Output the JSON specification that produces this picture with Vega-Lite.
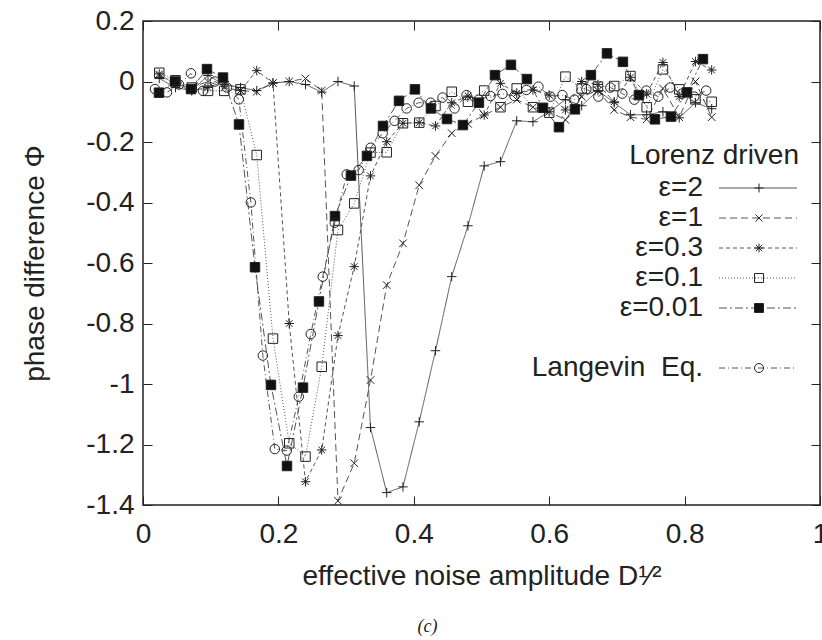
{
  "$schema": "https://vega.github.io/schema/vega-lite/v6.json",
  "width": 677,
  "height": 484,
  "autosize": "none",
  "padding": {"left": 143, "top": 21, "right": 2, "bottom": 135},
  "background": "white",
  "config": {
    "view": {"stroke": "#222", "strokeWidth": 1.5},
    "font": "Liberation Sans",
    "axis": {"grid": false, "domain": false, "labelFlush": false, "labelOverlap": false, "tickColor": "#222", "tickSize": -9, "tickWidth": 1, "labelFontSize": 28, "labelColor": "#222", "titleFontSize": 28, "titleFontWeight": "normal", "titleColor": "#222", "labelFont": "Liberation Sans", "titleFont": "Liberation Sans"}
  },
  "title": {"text": "(c)", "orient": "bottom", "font": "Liberation Serif", "fontStyle": "italic", "fontWeight": "normal", "fontSize": 18, "offset": 28, "dx": -54, "color": "#222"},
  "datasets": {
    "pts": [
      {"series": "ε=2", "x": 0.024, "y": 0.01}, {"series": "ε=2", "x": 0.048, "y": -0.02}, {"series": "ε=2", "x": 0.072, "y": -0.03}, {"series": "ε=2", "x": 0.096, "y": 0.02}, {"series": "ε=2", "x": 0.12, "y": -0.01}, {"series": "ε=2", "x": 0.144, "y": -0.02}, {"series": "ε=2", "x": 0.168, "y": -0.03}, {"series": "ε=2", "x": 0.192, "y": -0.005}, {"series": "ε=2", "x": 0.216, "y": 0.0}, {"series": "ε=2", "x": 0.24, "y": -0.01}, {"series": "ε=2", "x": 0.264, "y": -0.035}, {"series": "ε=2", "x": 0.288, "y": 0.0}, {"series": "ε=2", "x": 0.312, "y": -0.015}, {"series": "ε=2", "x": 0.336, "y": -1.144}, {"series": "ε=2", "x": 0.36, "y": -1.359}, {"series": "ε=2", "x": 0.384, "y": -1.34}, {"series": "ε=2", "x": 0.408, "y": -1.125}, {"series": "ε=2", "x": 0.432, "y": -0.89}, {"series": "ε=2", "x": 0.456, "y": -0.645}, {"series": "ε=2", "x": 0.48, "y": -0.477}, {"series": "ε=2", "x": 0.504, "y": -0.279}, {"series": "ε=2", "x": 0.528, "y": -0.265}, {"series": "ε=2", "x": 0.552, "y": -0.13}, {"series": "ε=2", "x": 0.576, "y": -0.133}, {"series": "ε=2", "x": 0.6, "y": -0.1}, {"series": "ε=2", "x": 0.624, "y": -0.06}, {"series": "ε=2", "x": 0.648, "y": -0.08}, {"series": "ε=2", "x": 0.672, "y": -0.03}, {"series": "ε=2", "x": 0.696, "y": -0.07}, {"series": "ε=2", "x": 0.72, "y": -0.11}, {"series": "ε=2", "x": 0.744, "y": -0.11}, {"series": "ε=2", "x": 0.768, "y": -0.1}, {"series": "ε=2", "x": 0.792, "y": -0.12}, {"series": "ε=2", "x": 0.816, "y": -0.07}, {"series": "ε=2", "x": 0.84, "y": -0.09},

      {"series": "ε=1", "x": 0.024, "y": 0.02}, {"series": "ε=1", "x": 0.048, "y": -0.01}, {"series": "ε=1", "x": 0.072, "y": -0.02}, {"series": "ε=1", "x": 0.096, "y": 0.0}, {"series": "ε=1", "x": 0.12, "y": -0.02}, {"series": "ε=1", "x": 0.144, "y": -0.03}, {"series": "ε=1", "x": 0.168, "y": -0.034}, {"series": "ε=1", "x": 0.192, "y": -0.005}, {"series": "ε=1", "x": 0.216, "y": 0.0}, {"series": "ε=1", "x": 0.24, "y": 0.01}, {"series": "ε=1", "x": 0.264, "y": -0.03}, {"series": "ε=1", "x": 0.288, "y": -1.386}, {"series": "ε=1", "x": 0.312, "y": -1.262}, {"series": "ε=1", "x": 0.336, "y": -0.987}, {"series": "ε=1", "x": 0.36, "y": -0.673}, {"series": "ε=1", "x": 0.384, "y": -0.535}, {"series": "ε=1", "x": 0.408, "y": -0.343}, {"series": "ε=1", "x": 0.432, "y": -0.246}, {"series": "ε=1", "x": 0.456, "y": -0.171}, {"series": "ε=1", "x": 0.48, "y": -0.14}, {"series": "ε=1", "x": 0.504, "y": -0.111}, {"series": "ε=1", "x": 0.528, "y": -0.085}, {"series": "ε=1", "x": 0.552, "y": -0.06}, {"series": "ε=1", "x": 0.576, "y": -0.085}, {"series": "ε=1", "x": 0.6, "y": -0.1}, {"series": "ε=1", "x": 0.624, "y": -0.127}, {"series": "ε=1", "x": 0.648, "y": -0.05}, {"series": "ε=1", "x": 0.672, "y": -0.03}, {"series": "ε=1", "x": 0.696, "y": -0.094}, {"series": "ε=1", "x": 0.72, "y": -0.118}, {"series": "ε=1", "x": 0.744, "y": -0.125}, {"series": "ε=1", "x": 0.768, "y": -0.023}, {"series": "ε=1", "x": 0.792, "y": -0.118}, {"series": "ε=1", "x": 0.816, "y": 0.0}, {"series": "ε=1", "x": 0.84, "y": -0.118},

      {"series": "ε=0.3", "x": 0.024, "y": 0.025}, {"series": "ε=0.3", "x": 0.048, "y": -0.01}, {"series": "ε=0.3", "x": 0.072, "y": -0.03}, {"series": "ε=0.3", "x": 0.096, "y": -0.02}, {"series": "ε=0.3", "x": 0.12, "y": 0.0}, {"series": "ε=0.3", "x": 0.144, "y": -0.03}, {"series": "ε=0.3", "x": 0.168, "y": 0.036}, {"series": "ε=0.3", "x": 0.192, "y": -0.005}, {"series": "ε=0.3", "x": 0.216, "y": -0.8}, {"series": "ε=0.3", "x": 0.24, "y": -1.323}, {"series": "ε=0.3", "x": 0.264, "y": -1.218}, {"series": "ε=0.3", "x": 0.288, "y": -0.84}, {"series": "ε=0.3", "x": 0.312, "y": -0.612}, {"series": "ε=0.3", "x": 0.336, "y": -0.312}, {"series": "ε=0.3", "x": 0.36, "y": -0.199}, {"series": "ε=0.3", "x": 0.384, "y": -0.138}, {"series": "ε=0.3", "x": 0.408, "y": -0.136}, {"series": "ε=0.3", "x": 0.432, "y": -0.147}, {"series": "ε=0.3", "x": 0.456, "y": -0.07}, {"series": "ε=0.3", "x": 0.48, "y": -0.048}, {"series": "ε=0.3", "x": 0.504, "y": -0.111}, {"series": "ε=0.3", "x": 0.528, "y": -0.006}, {"series": "ε=0.3", "x": 0.552, "y": -0.039}, {"series": "ε=0.3", "x": 0.576, "y": -0.028}, {"series": "ε=0.3", "x": 0.6, "y": -0.045}, {"series": "ε=0.3", "x": 0.624, "y": -0.094}, {"series": "ε=0.3", "x": 0.648, "y": 0.0}, {"series": "ε=0.3", "x": 0.672, "y": -0.01}, {"series": "ε=0.3", "x": 0.696, "y": -0.067}, {"series": "ε=0.3", "x": 0.72, "y": 0.014}, {"series": "ε=0.3", "x": 0.744, "y": -0.041}, {"series": "ε=0.3", "x": 0.768, "y": 0.063}, {"series": "ε=0.3", "x": 0.792, "y": -0.05}, {"series": "ε=0.3", "x": 0.816, "y": 0.066}, {"series": "ε=0.3", "x": 0.84, "y": 0.038},

      {"series": "ε=0.1", "x": 0.024, "y": 0.029}, {"series": "ε=0.1", "x": 0.048, "y": 0.004}, {"series": "ε=0.1", "x": 0.072, "y": -0.02}, {"series": "ε=0.1", "x": 0.096, "y": -0.031}, {"series": "ε=0.1", "x": 0.12, "y": -0.031}, {"series": "ε=0.1", "x": 0.144, "y": -0.026}, {"series": "ε=0.1", "x": 0.168, "y": -0.243}, {"series": "ε=0.1", "x": 0.192, "y": -0.85}, {"series": "ε=0.1", "x": 0.216, "y": -1.196}, {"series": "ε=0.1", "x": 0.24, "y": -1.24}, {"series": "ε=0.1", "x": 0.264, "y": -0.943}, {"series": "ε=0.1", "x": 0.288, "y": -0.491}, {"series": "ε=0.1", "x": 0.312, "y": -0.403}, {"series": "ε=0.1", "x": 0.336, "y": -0.235}, {"series": "ε=0.1", "x": 0.36, "y": -0.234}, {"series": "ε=0.1", "x": 0.384, "y": -0.138}, {"series": "ε=0.1", "x": 0.408, "y": -0.136}, {"series": "ε=0.1", "x": 0.432, "y": -0.081}, {"series": "ε=0.1", "x": 0.456, "y": -0.034}, {"series": "ε=0.1", "x": 0.48, "y": -0.067}, {"series": "ε=0.1", "x": 0.504, "y": -0.03}, {"series": "ε=0.1", "x": 0.528, "y": -0.085}, {"series": "ε=0.1", "x": 0.552, "y": -0.023}, {"series": "ε=0.1", "x": 0.576, "y": -0.085}, {"series": "ε=0.1", "x": 0.6, "y": -0.103}, {"series": "ε=0.1", "x": 0.624, "y": 0.016}, {"series": "ε=0.1", "x": 0.648, "y": -0.023}, {"series": "ε=0.1", "x": 0.672, "y": -0.017}, {"series": "ε=0.1", "x": 0.696, "y": -0.015}, {"series": "ε=0.1", "x": 0.72, "y": 0.018}, {"series": "ε=0.1", "x": 0.744, "y": -0.085}, {"series": "ε=0.1", "x": 0.768, "y": 0.04}, {"series": "ε=0.1", "x": 0.792, "y": -0.026}, {"series": "ε=0.1", "x": 0.816, "y": -0.059}, {"series": "ε=0.1", "x": 0.84, "y": -0.067},

      {"series": "ε=0.01", "x": 0.0236, "y": -0.037}, {"series": "ε=0.01", "x": 0.0473, "y": 0.0}, {"series": "ε=0.01", "x": 0.0709, "y": -0.025}, {"series": "ε=0.01", "x": 0.0945, "y": 0.041}, {"series": "ε=0.01", "x": 0.1182, "y": 0.013}, {"series": "ε=0.01", "x": 0.1418, "y": -0.142}, {"series": "ε=0.01", "x": 0.1654, "y": -0.614}, {"series": "ε=0.01", "x": 0.189, "y": -1.003}, {"series": "ε=0.01", "x": 0.2127, "y": -1.271}, {"series": "ε=0.01", "x": 0.2363, "y": -1.012}, {"series": "ε=0.01", "x": 0.2599, "y": -0.727}, {"series": "ε=0.01", "x": 0.2836, "y": -0.445}, {"series": "ε=0.01", "x": 0.3072, "y": -0.311}, {"series": "ε=0.01", "x": 0.3308, "y": -0.246}, {"series": "ε=0.01", "x": 0.3545, "y": -0.147}, {"series": "ε=0.01", "x": 0.3781, "y": -0.064}, {"series": "ε=0.01", "x": 0.4017, "y": -0.026}, {"series": "ε=0.01", "x": 0.4253, "y": -0.089}, {"series": "ε=0.01", "x": 0.449, "y": -0.124}, {"series": "ε=0.01", "x": 0.4726, "y": -0.144}, {"series": "ε=0.01", "x": 0.4962, "y": -0.07}, {"series": "ε=0.01", "x": 0.5199, "y": 0.021}, {"series": "ε=0.01", "x": 0.5435, "y": 0.055}, {"series": "ε=0.01", "x": 0.5671, "y": 0.008}, {"series": "ε=0.01", "x": 0.5908, "y": -0.087}, {"series": "ε=0.01", "x": 0.6144, "y": -0.151}, {"series": "ε=0.01", "x": 0.638, "y": -0.092}, {"series": "ε=0.01", "x": 0.6616, "y": 0.021}, {"series": "ε=0.01", "x": 0.6853, "y": 0.093}, {"series": "ε=0.01", "x": 0.7089, "y": 0.065}, {"series": "ε=0.01", "x": 0.7325, "y": -0.045}, {"series": "ε=0.01", "x": 0.7562, "y": -0.125}, {"series": "ε=0.01", "x": 0.7798, "y": -0.116}, {"series": "ε=0.01", "x": 0.8034, "y": -0.036}, {"series": "ε=0.01", "x": 0.8271, "y": 0.074},

      {"series": "Langevin\u00a0\u00a0Eq.", "x": 0.0177, "y": -0.025}, {"series": "Langevin\u00a0\u00a0Eq.", "x": 0.0354, "y": -0.036}, {"series": "Langevin\u00a0\u00a0Eq.", "x": 0.0531, "y": -0.01}, {"series": "Langevin\u00a0\u00a0Eq.", "x": 0.0708, "y": 0.027}, {"series": "Langevin\u00a0\u00a0Eq.", "x": 0.0885, "y": -0.031}, {"series": "Langevin\u00a0\u00a0Eq.", "x": 0.1062, "y": 0.0}, {"series": "Langevin\u00a0\u00a0Eq.", "x": 0.1239, "y": -0.02}, {"series": "Langevin\u00a0\u00a0Eq.", "x": 0.1416, "y": -0.059}, {"series": "Langevin\u00a0\u00a0Eq.", "x": 0.1593, "y": -0.4}, {"series": "Langevin\u00a0\u00a0Eq.", "x": 0.177, "y": -0.906}, {"series": "Langevin\u00a0\u00a0Eq.", "x": 0.1947, "y": -1.215}, {"series": "Langevin\u00a0\u00a0Eq.", "x": 0.2124, "y": -1.22}, {"series": "Langevin\u00a0\u00a0Eq.", "x": 0.2301, "y": -1.042}, {"series": "Langevin\u00a0\u00a0Eq.", "x": 0.2478, "y": -0.835}, {"series": "Langevin\u00a0\u00a0Eq.", "x": 0.2655, "y": -0.645}, {"series": "Langevin\u00a0\u00a0Eq.", "x": 0.2832, "y": -0.467}, {"series": "Langevin\u00a0\u00a0Eq.", "x": 0.3009, "y": -0.307}, {"series": "Langevin\u00a0\u00a0Eq.", "x": 0.3186, "y": -0.293}, {"series": "Langevin\u00a0\u00a0Eq.", "x": 0.3363, "y": -0.219}, {"series": "Langevin\u00a0\u00a0Eq.", "x": 0.354, "y": -0.171}, {"series": "Langevin\u00a0\u00a0Eq.", "x": 0.3717, "y": -0.13}, {"series": "Langevin\u00a0\u00a0Eq.", "x": 0.3894, "y": -0.089}, {"series": "Langevin\u00a0\u00a0Eq.", "x": 0.4071, "y": -0.07}, {"series": "Langevin\u00a0\u00a0Eq.", "x": 0.4248, "y": -0.07}, {"series": "Langevin\u00a0\u00a0Eq.", "x": 0.4425, "y": -0.053}, {"series": "Langevin\u00a0\u00a0Eq.", "x": 0.4602, "y": -0.089}, {"series": "Langevin\u00a0\u00a0Eq.", "x": 0.4779, "y": -0.045}, {"series": "Langevin\u00a0\u00a0Eq.", "x": 0.4956, "y": -0.06}, {"series": "Langevin\u00a0\u00a0Eq.", "x": 0.5133, "y": -0.048}, {"series": "Langevin\u00a0\u00a0Eq.", "x": 0.531, "y": -0.041}, {"series": "Langevin\u00a0\u00a0Eq.", "x": 0.5487, "y": -0.048}, {"series": "Langevin\u00a0\u00a0Eq.", "x": 0.5664, "y": -0.028}, {"series": "Langevin\u00a0\u00a0Eq.", "x": 0.5841, "y": -0.017}, {"series": "Langevin\u00a0\u00a0Eq.", "x": 0.6018, "y": -0.05}, {"series": "Langevin\u00a0\u00a0Eq.", "x": 0.6195, "y": -0.045}, {"series": "Langevin\u00a0\u00a0Eq.", "x": 0.6372, "y": -0.06}, {"series": "Langevin\u00a0\u00a0Eq.", "x": 0.6549, "y": -0.025}, {"series": "Langevin\u00a0\u00a0Eq.", "x": 0.6726, "y": -0.05}, {"series": "Langevin\u00a0\u00a0Eq.", "x": 0.6903, "y": -0.02}, {"series": "Langevin\u00a0\u00a0Eq.", "x": 0.708, "y": -0.04}, {"series": "Langevin\u00a0\u00a0Eq.", "x": 0.7257, "y": -0.06}, {"series": "Langevin\u00a0\u00a0Eq.", "x": 0.7434, "y": -0.03}, {"series": "Langevin\u00a0\u00a0Eq.", "x": 0.7611, "y": -0.05}, {"series": "Langevin\u00a0\u00a0Eq.", "x": 0.7788, "y": -0.02}, {"series": "Langevin\u00a0\u00a0Eq.", "x": 0.7965, "y": -0.04}, {"series": "Langevin\u00a0\u00a0Eq.", "x": 0.8142, "y": -0.05}, {"series": "Langevin\u00a0\u00a0Eq.", "x": 0.8319, "y": -0.03}
    ]
  },
  "data": {"name": "pts"},
  "layer": [
    {
      "mark": {"type": "line", "strokeWidth": 1, "color": "#555"},
      "encoding": {
        "x": {"field": "x", "type": "quantitative", "scale": {"domain": [0, 1], "nice": false, "zero": false},
          "axis": {"orient": "bottom", "values": [0, 0.2, 0.4, 0.6, 0.8, 1], "labelExpr": "'' + datum.value", "title": "effective noise amplitude D¹⁄²", "labelPadding": 24, "titlePadding": 14}},
        "y": {"field": "y", "type": "quantitative", "scale": {"domain": [-1.4, 0.2], "nice": false, "zero": false},
          "axis": {"orient": "left", "values": [-1.4, -1.2, -1, -0.8, -0.6, -0.4, -0.2, 0, 0.2], "labelExpr": "'' + datum.value", "title": "phase difference Φ", "labelPadding": 18, "titlePadding": 36}},
        "strokeDash": {"field": "series", "type": "nominal",
          "scale": {"domain": ["ε=2", "ε=1", "ε=0.3", "ε=0.1", "ε=0.01", " ", "Langevin\u00a0\u00a0Eq."],
                    "range": [[1, 0], [7, 4], [4, 3], [1, 2], [8, 3, 2, 3], [0, 1000], [6, 3, 1, 3]]},
          "legend": {"orient": "none", "legendX": 486, "legendY": 121, "padding": 0, "title": "Lorenz driven", "titleFontSize": 28, "titleFontWeight": "normal", "titleColor": "#222", "titleAnchor": "end", "titlePadding": 4, "labelFontSize": 28, "labelColor": "#222", "labelAlign": "right", "labelOffset": -69, "symbolType": "M-3,0H3", "symbolSize": 676, "symbolStrokeWidth": 1, "symbolStrokeColor": "#555", "symbolFillColor": "transparent", "rowPadding": 2, "labelLimit": 300}}
      }
    },
    {
      "mark": {"type": "point", "filled": false, "size": 90, "strokeWidth": 1, "color": "#222", "opacity": 1},
      "encoding": {
        "x": {"field": "x", "type": "quantitative", "axis": {"orient": "top", "values": [0, 0.2, 0.4, 0.6, 0.8, 1], "labels": false, "title": null}},
        "y": {"field": "y", "type": "quantitative", "axis": {"orient": "right", "values": [-1.4, -1.2, -1, -0.8, -0.6, -0.4, -0.2, 0, 0.2], "labels": false, "title": null}},
        "stroke": {"value": "#222"},
        "shape": {"field": "series", "type": "nominal",
          "scale": {"domain": ["ε=2", "ε=1", "ε=0.3", "ε=0.1", "ε=0.01", "  ", "Langevin\u00a0\u00a0Eq."],
                    "range": ["M-1,0H1M0,-1V1", "M-0.8,-0.8L0.8,0.8M-0.8,0.8L0.8,-0.8", "M-1,0H1M0,-1V1M-0.7,-0.7L0.7,0.7M-0.7,0.7L0.7,-0.7", "square", "square", "M0,0", "circle"]},
          "legend": {"orient": "none", "legendX": 452, "legendY": 121, "padding": 0, "title": "Lorenz driven", "titleFontSize": 28, "titleFontWeight": "normal", "titleColor": "transparent", "titleAnchor": "end", "titlePadding": 4, "labelFontSize": 28, "labelColor": "transparent", "labelAlign": "right", "labelOffset": -69, "symbolSize": 80, "symbolStrokeWidth": 1, "rowPadding": 2, "labelLimit": 300}},
        "fill": {"field": "series", "type": "nominal",
          "scale": {"domain": ["ε=2", "ε=1", "ε=0.3", "ε=0.1", "ε=0.01", "  ", "Langevin\u00a0\u00a0Eq."],
                    "range": ["transparent", "transparent", "transparent", "transparent", "#111", "transparent", "transparent"]},
          "legend": {"orient": "none", "legendX": 452, "legendY": 121, "padding": 0, "title": "Lorenz driven", "titleFontSize": 28, "titleFontWeight": "normal", "titleColor": "transparent", "titleAnchor": "end", "titlePadding": 4, "labelFontSize": 28, "labelColor": "transparent", "labelAlign": "right", "labelOffset": -69, "symbolSize": 80, "symbolStrokeWidth": 1, "rowPadding": 2, "labelLimit": 300}}
      }
    }
  ],
  "resolve": {"axis": {"x": "independent", "y": "independent"}}
}
